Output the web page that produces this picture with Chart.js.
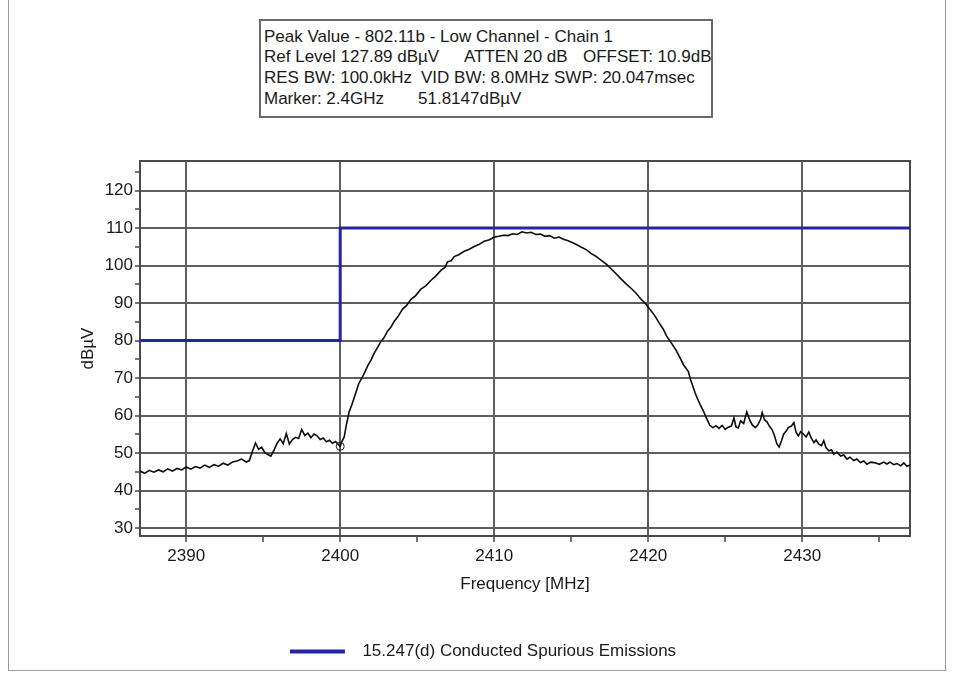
<!DOCTYPE html>
<html>
<head>
<meta charset="utf-8">
<script src="https://cdn.jsdelivr.net/npm/chart.js@4.4.0/dist/chart.umd.min.js"></script>
<style>
html,body{margin:0;padding:0;background:#fff;}
#wrap{position:relative;width:954px;height:673px;overflow:hidden;background:#fff;}
#c{position:absolute;left:0;top:0;}
#frame{position:absolute;left:8px;top:-2px;width:938px;height:673px;border:1px solid #9a9a9a;box-sizing:border-box;pointer-events:none;}
#info{position:absolute;left:259px;top:19px;width:454px;height:99px;border:2px solid #6a6a6a;box-sizing:border-box;font-family:"Liberation Sans",Arial,sans-serif;font-size:17px;color:#1a1a1a;background:#fff;}
#info span{position:absolute;white-space:pre;line-height:20px;}
</style>
</head>
<body>
<div id="wrap">
<canvas id="c" width="954" height="673"></canvas>
<div id="frame"></div>
<div id="info">
<span style="left:3px;top:6px">Peak Value - 802.11b - Low Channel - Chain 1</span>
<span style="left:3px;top:26px">Ref Level 127.89 dBµV</span><span style="left:203px;top:26px">ATTEN 20 dB</span><span style="left:322px;top:26px">OFFSET: 10.9dB</span>
<span style="left:3px;top:47px">RES BW: 100.0kHz</span><span style="left:160px;top:47px">VID BW: 8.0MHz</span><span style="left:293px;top:47px">SWP: 20.047msec</span>
<span style="left:3px;top:68px">Marker: 2.4GHz</span><span style="left:157px;top:68px">51.8147dBµV</span>
</div>
</div>
<script>
// ---- data ----
const freqTicks = [2390, 2395, 2400, 2405, 2410, 2415, 2420, 2425, 2430, 2435];
const levelTicks = [30, 35, 40, 45, 50, 55, 60, 65, 70, 75, 80, 85, 90, 95, 100, 105, 110, 115, 120, 125];

const limitFreq = [2387, 2400, 2400, 2437];
const limitLevel = [80, 80, 110, 110];
const limitLabel = '15.247(d) Conducted Spurious Emissions';

const markerFreq = [2400];
const markerLevel = [51.8147];

const traceFreq = [
  2387.0, 2387.3, 2387.6, 2387.9, 2388.2, 2388.5, 2388.8, 2389.1, 2389.4, 2389.7,
  2390.0, 2390.3, 2390.6, 2390.9, 2391.2, 2391.5, 2391.8, 2392.1, 2392.4, 2392.7,
  2393.0, 2393.3, 2393.6, 2393.9, 2394.1, 2394.3, 2394.5, 2394.7, 2394.9, 2395.1,
  2395.3, 2395.5, 2395.7, 2395.9, 2396.1, 2396.3, 2396.5, 2396.7, 2396.9, 2397.1,
  2397.3, 2397.5, 2397.7, 2397.9, 2398.1, 2398.3, 2398.5, 2398.7, 2398.9, 2399.1,
  2399.3, 2399.5, 2399.7, 2399.9, 2400.0,
  2400.1, 2400.26, 2400.4, 2400.58, 2400.75, 2401.0, 2401.2, 2401.45, 2401.6, 2401.8,
  2402.0, 2402.2, 2402.4, 2402.64, 2402.85, 2403.07, 2403.3, 2403.5, 2403.75, 2404.05,
  2404.3, 2404.6, 2404.9, 2405.24, 2405.55, 2405.9, 2406.2, 2406.54, 2406.8, 2406.97,
  2407.2, 2407.4, 2407.7, 2408.05, 2408.35, 2408.7, 2409.0, 2409.35, 2409.7, 2410.0,
  2410.3, 2410.6, 2410.9, 2411.2, 2411.5, 2411.8, 2412.1, 2412.4, 2412.7, 2413.0,
  2413.3, 2413.6, 2413.9, 2414.2, 2414.5, 2414.8, 2415.1, 2415.4, 2415.7, 2416.0,
  2416.3, 2416.6, 2416.95, 2417.3, 2417.6, 2417.9, 2418.25, 2418.6, 2418.9, 2419.2,
  2419.56, 2419.8, 2420.0, 2420.2, 2420.43, 2420.7, 2420.97, 2421.2, 2421.5, 2421.8,
  2422.05, 2422.3, 2422.6, 2422.75, 2422.9, 2423.05, 2423.2, 2423.4, 2423.57, 2423.8,
  2424.0, 2424.2, 2424.4, 2424.6, 2424.8, 2425.0, 2425.2, 2425.4, 2425.57, 2425.7,
  2425.85, 2426.0, 2426.2, 2426.4, 2426.6, 2426.76, 2426.95, 2427.1, 2427.3, 2427.4,
  2427.55, 2427.7, 2427.9, 2428.05, 2428.2, 2428.35, 2428.5, 2428.65, 2428.8, 2428.95,
  2429.1, 2429.3, 2429.46, 2429.6, 2429.75, 2429.9, 2430.1, 2430.25, 2430.43, 2430.6,
  2430.76, 2430.9, 2431.08, 2431.25, 2431.4, 2431.55, 2431.73, 2431.9, 2432.05, 2432.25,
  2432.5, 2432.7, 2432.9, 2433.1, 2433.35, 2433.55, 2433.78, 2434.0, 2434.2, 2434.45,
  2434.75, 2435.0, 2435.3, 2435.5, 2435.7, 2435.95, 2436.16, 2436.4, 2436.6, 2436.8,
  2437.0
];
const traceLevel = [
  45.2, 44.6, 45.4, 44.9, 45.5, 45.0, 45.8, 45.2, 45.9, 45.5,
  46.3, 45.7, 46.4, 46.0, 46.8, 46.2, 46.9, 46.5, 47.3, 46.8,
  47.6, 47.9, 48.4, 47.6, 48.0, 50.5, 52.7, 51.0, 51.6, 50.2,
  49.6, 49.2, 50.8, 52.6, 53.8, 52.5, 55.2, 52.4, 53.6, 54.2,
  53.9, 56.3, 54.7, 55.3, 54.1, 55.1, 54.6, 53.6, 54.0, 53.0,
  53.4, 52.6, 53.1, 52.2, 51.8,
  53.0, 54.3, 57.5, 61.0, 62.8, 65.9, 68.5, 70.3, 71.6, 73.4,
  74.8, 76.6, 78.0, 79.7, 80.8, 82.5, 83.6, 85.1, 86.4, 88.4,
  89.3, 91.0, 92.0, 93.7, 94.6, 96.1, 97.2, 98.7, 99.5, 101.0,
  101.3, 102.4, 102.9, 103.8, 104.3, 105.1, 105.6, 106.5, 106.9, 107.6,
  107.8, 108.1, 108.0, 108.5, 108.3, 109.0, 108.7, 108.9, 108.3, 108.4,
  107.8, 108.0, 107.3, 107.6, 107.0, 106.6, 106.1, 105.5, 104.8, 104.2,
  103.2, 102.5, 101.4, 100.3, 99.1, 97.9, 96.4, 95.0, 93.9, 92.7,
  90.9, 90.0, 88.9, 87.9, 86.6, 84.8, 83.1, 81.2, 79.4, 77.5,
  75.5, 73.5, 71.8, 69.6, 67.8, 66.0, 64.5, 62.7, 61.3, 59.2,
  57.4, 56.8, 57.3, 56.6, 57.4, 56.3, 56.9, 57.2, 59.4, 57.0,
  56.7, 58.6, 57.9, 61.0, 58.7, 57.5, 56.8, 57.4, 59.0, 60.8,
  58.9, 58.4, 57.0, 56.2, 54.6, 52.5, 51.6, 53.2, 55.1, 55.8,
  56.8, 57.2, 58.1, 55.6, 54.6, 55.7, 55.0, 54.3, 55.6, 53.9,
  52.8, 53.5, 52.4, 52.0, 53.3, 51.4, 50.6, 50.9, 49.7, 50.3,
  49.2, 49.5, 48.4, 48.9, 48.0, 48.4, 47.5, 47.9, 47.0, 47.6,
  47.4, 47.0, 47.6, 47.1, 47.6, 46.9, 47.2, 46.6, 47.4, 46.5,
  46.8
];

const FONT = '"Liberation Sans", Arial, sans-serif';
const TXT = '#1a1a1a';
const GRID = '#5e5e5e';
const BLUE = '#2424a8';

// legend swatch: a 55px blue line followed by a small gap
const swatch = document.createElement('canvas');
swatch.width = 64; swatch.height = 6;
(function(){ const g = swatch.getContext('2d'); g.fillStyle = BLUE; g.fillRect(0, 1, 55, 4); })();

const framePlugin = {
  id: 'framePlugin',
  beforeDatasetsDraw(chart) {
    const a = chart.chartArea, ctx = chart.ctx;
    ctx.save();
    ctx.strokeStyle = '#4a4a4a';
    ctx.lineWidth = 2;
    ctx.strokeRect(a.left, a.top, a.right - a.left, a.bottom - a.top);
    ctx.restore();
  },
  afterLayout(chart) {
    if (chart.legend) { chart.legend.left += 23; chart.legend.right += 23; }
  }
};

const gridColor = ctx => (ctx.tick && ctx.tick.value % 10 === 0) ? GRID : 'rgba(0,0,0,0)';

new Chart(document.getElementById('c'), {
  type: 'line',
  data: {
    datasets: [
      {
        label: 'trace',
        data: traceFreq.map((f, i) => ({x: f, y: traceLevel[i]})),
        borderColor: '#0d0d0d',
        borderWidth: 1.6,
        pointRadius: 0,
        tension: 0,
        order: 1
      },
      {
        label: limitLabel,
        data: limitFreq.map((f, i) => ({x: f, y: limitLevel[i]})),
        borderColor: BLUE,
        backgroundColor: BLUE,
        borderWidth: 3,
        pointRadius: 0,
        tension: 0,
        order: 2
      },
      {
        label: 'marker',
        data: markerFreq.map((f, i) => ({x: f, y: markerLevel[i]})),
        showLine: false,
        pointRadius: 4,
        pointBorderWidth: 1,
        pointBorderColor: '#222',
        pointBackgroundColor: 'rgba(255,255,255,0)',
        order: 0
      }
    ]
  },
  options: {
    responsive: false,
    animation: false,
    layout: { padding: { left: 10, right: 44, top: 161, bottom: 3 } },
    plugins: {
      tooltip: { enabled: false },
      legend: {
        position: 'bottom',
        labels: {
          font: { family: FONT, size: 17 },
          color: TXT,
          usePointStyle: true,
          pointStyleWidth: 64,
          boxHeight: 6,
          padding: 10,
          generateLabels: () => [{
            text: limitLabel,
            pointStyle: swatch,
            fillStyle: BLUE,
            strokeStyle: BLUE,
            lineWidth: 0,
            hidden: false,
            datasetIndex: 1,
            fontColor: TXT
          }]
        }
      }
    },
    scales: {
      x: {
        type: 'linear',
        min: 2387,
        max: 2437,
        afterBuildTicks: s => { s.ticks = freqTicks.map(v => ({ value: v })); },
        afterFit: s => { s.height = 97; },
        ticks: {
          callback: v => (v % 10 === 0 ? String(v) : ''),
          font: { family: FONT, size: 17 },
          color: TXT,
          padding: 4,
          maxRotation: 0,
          autoSkip: false
        },
        grid: { color: gridColor, lineWidth: 2, tickLength: 6, tickColor: '#444', tickWidth: 1.5, drawOnChartArea: true },
        border: { display: true, color: '#4a4a4a', width: 2 },
        title: {
          display: true,
          text: 'Frequency [MHz]',
          font: { family: FONT, size: 17 },
          color: TXT,
          padding: { top: 10, bottom: 38 }
        }
      },
      y: {
        type: 'linear',
        min: 27.89,
        max: 127.89,
        afterBuildTicks: s => { s.ticks = levelTicks.map(v => ({ value: v })); },
        afterFit: s => { s.width = 130; },
        ticks: {
          callback: v => (v % 10 === 0 ? String(v) : ''),
          font: { family: FONT, size: 17 },
          color: TXT,
          padding: 2,
          autoSkip: false
        },
        grid: { color: gridColor, lineWidth: 2, tickLength: 5, tickColor: '#444', tickWidth: 1.5, drawOnChartArea: true },
        border: { display: true, color: '#4a4a4a', width: 2 },
        title: {
          display: true,
          text: 'dBµV',
          font: { family: FONT, size: 17 },
          color: TXT,
          padding: { top: 68, bottom: 0 }
        }
      }
    }
  },
  plugins: [framePlugin]
});
</script>
</body>
</html>
